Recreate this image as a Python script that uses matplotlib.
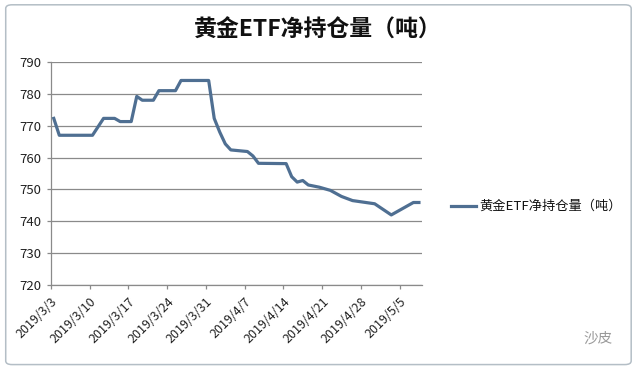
import matplotlib
matplotlib.use("Agg")
import matplotlib.pyplot as plt
from matplotlib.patches import FancyBboxPatch

plt.rcParams["font.family"] = ["Noto Sans CJK SC", "DejaVu Sans"]

# ── Data (day index counted from 2019/3/3, holdings in tonnes) ────────────────
days = [0, 1, 7, 9, 11, 12, 14, 15, 16, 18, 19, 22, 23, 28, 29, 30, 31, 32,
        35, 36, 37, 42, 43, 44, 45, 46, 48, 50, 52, 54, 58, 61, 65, 66]
tonnes = [772.3, 767.0, 767.0, 772.3, 772.3, 771.3, 771.3, 779.2, 778.0, 778.0,
          781.0, 781.0, 784.2, 784.2, 772.3, 768.0, 764.3, 762.4, 761.9, 760.5,
          758.2, 758.1, 754.0, 752.3, 752.8, 751.4, 750.7, 749.7, 747.8, 746.5,
          745.5, 742.0, 745.9, 745.9]
tick_days = [0, 7, 14, 21, 28, 35, 42, 49, 56, 63]
tick_labels = ["2019/3/3", "2019/3/10", "2019/3/17", "2019/3/24", "2019/3/31",
               "2019/4/7", "2019/4/14", "2019/4/21", "2019/4/28", "2019/5/5"]
y_ticks = [720, 730, 740, 750, 760, 770, 780, 790]
series_name = "黄金ETF净持仓量（吨）"

LINE_C = "#4f6f92"
GRID_C = "#8a8a8a"

fig = plt.figure(figsize=(6.35, 3.69), dpi=100)
fig.patch.set_facecolor("white")

# chart-area frame
fig.patches.append(FancyBboxPatch((0.009, 0.012), 0.985, 0.975,
                                  boxstyle="round,pad=0,rounding_size=0.01",
                                  transform=fig.transFigure, fill=False,
                                  edgecolor="#b4bec6", lw=1.1))

ax = fig.add_axes([0.0803, 0.2276, 0.5838, 0.6044])
ax.plot([d + 0.5 for d in days], tonnes, color=LINE_C, lw=2.3,
        solid_joinstyle="round", zorder=3)

ax.set_xlim(0, 67)
ax.set_ylim(720, 790)
ax.set_yticks(y_ticks)
ax.set_yticklabels([str(v) for v in y_ticks], fontsize=9.5, color="#222222")
ax.set_xticks(tick_days)
ax.set_xticklabels(tick_labels, fontsize=9, color="#222222",
                   rotation=45, ha="right", rotation_mode="anchor")
ax.grid(axis="y", color=GRID_C, lw=0.9)
ax.set_axisbelow(True)
for s in ["top", "right"]:
    ax.spines[s].set_visible(False)
for s in ["left", "bottom"]:
    ax.spines[s].set_color(GRID_C)
    ax.spines[s].set_linewidth(0.9)
ax.tick_params(axis="both", direction="out", length=3, color=GRID_C, width=0.9)
ax.tick_params(axis="y", pad=4)
ax.tick_params(axis="x", pad=4)

fig.text(0.5, 0.918, series_name, ha="center", va="center",
         fontsize=16.5, fontweight="bold", color="#111111")

# legend
fig.add_artist(plt.Line2D([0.711, 0.750], [0.442, 0.442], color=LINE_C, lw=2.3,
                          transform=fig.transFigure))
fig.text(0.755, 0.442, series_name, ha="left", va="center", fontsize=9.5,
         color="#111111")

# watermark
fig.text(0.965, 0.083, "沙皮", ha="right", va="center", fontsize=10.5,
         color="#9a9a9a")

fig.savefig("out.png", dpi=100)
